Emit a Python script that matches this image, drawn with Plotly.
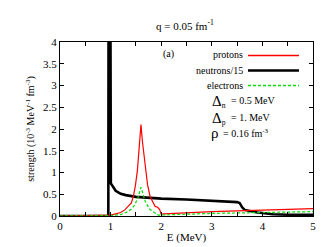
import plotly.graph_objects as go

# ---- data ----
E_n = [0, 0.90, 0.955, 0.965, 0.985, 1.005, 1.03, 1.06, 1.10, 1.20, 1.30, 1.50, 1.70, 2.00, 2.50, 3.00,
       3.30, 3.50, 3.55, 3.60, 3.65, 3.75, 3.90, 4.00, 4.20, 4.50, 5.00]
S_n = [0, 0, 0.0, 10.0, 10.0, 0.75, 0.70, 0.64, 0.58, 0.51, 0.48, 0.44, 0.42, 0.40, 0.38, 0.35,
       0.34, 0.32, 0.30, 0.20, 0.14, 0.11, 0.08, 0.07, 0.04, 0.03, 0.03]

E_p = [0, 0.95, 1.00, 1.10, 1.20, 1.28, 1.35, 1.41, 1.45, 1.49, 1.53, 1.57, 1.60, 1.63, 1.69, 1.73,
       1.78, 1.84, 1.88, 1.93, 1.97, 2.00, 2.05, 3.00, 4.00, 5.00]
S_p = [0, 0.01, 0.02, 0.05, 0.08, 0.14, 0.22, 0.30, 0.45, 0.70, 1.05, 1.60, 2.10, 1.70, 1.05, 0.72,
       0.45, 0.30, 0.22, 0.20, 0.15, 0.04, 0.05, 0.10, 0.14, 0.17]

E_e = [0, 1.00, 1.20, 1.34, 1.42, 1.48, 1.54, 1.58, 1.60, 1.63, 1.68, 1.72, 1.78, 1.84, 1.94, 3.00,
       4.00, 5.00]
S_e = [0, 0.01, 0.03, 0.10, 0.17, 0.26, 0.42, 0.60, 0.66, 0.55, 0.35, 0.26, 0.15, 0.10, 0.02, 0.06,
       0.08, 0.10]

x_ticks = [0, 1, 2, 3, 4, 5]
y_ticks = [0, 0.5, 1, 1.5, 2, 2.5, 3, 3.5, 4]
y_labels = ["0", "0.5", "1", "1.5", "2", "2.5", "3", "3.5", "4"]

W, H = 327, 247
L, R, T, B = 52, 305, 34, 208
FONT = "Liberation Serif"


def px(x):
    return (x - L) / (R - L)


def py(y):
    return (B - y) / (B - T)


RED = "#ff0000"
GREEN = "#00dd00"

fig = go.Figure()
fig.add_trace(go.Scatter(x=E_n, y=S_n, mode="lines", line=dict(color="black", width=2.6),
                         name="neutrons/15"))
fig.add_trace(go.Scatter(x=E_p, y=S_p, mode="lines", line=dict(color=RED, width=1.2),
                         name="protons"))
fig.add_trace(go.Scatter(x=E_e, y=S_e, mode="lines",
                         line=dict(color=GREEN, width=1.2, dash="3px,2px"),
                         name="electrons"))

# legend samples on an overlay axis in plot-fraction coordinates
for col, wd, dash, yy in [(RED, 1.4, "solid", 47.5), ("black", 2.6, "solid", 62.5),
                          (GREEN, 1.4, "3px,2px", 77.5)]:
    fig.add_trace(go.Scatter(x=[px(240), px(291)], y=[py(yy), py(yy)], mode="lines",
                             line=dict(color=col, width=wd, dash=dash),
                             xaxis="x2", yaxis="y2", hoverinfo="skip", showlegend=False))


def axis(**kw):
    d = dict(showgrid=False, zeroline=False, showline=True, linecolor="black", linewidth=1,
             mirror="ticks", ticks="inside", ticklen=4, tickcolor="black", automargin=False,
             tickfont=dict(family=FONT, size=11, color="black"))
    d.update(kw)
    return d


xaxis = axis(range=[0, 5], tickvals=x_ticks, ticktext=[str(v) for v in x_ticks],
             minor=dict(dtick=0.5, ticks="inside", ticklen=4, tickcolor="black"),
             title=dict(text="E (MeV)", font=dict(family=FONT, size=11, color="black"), standoff=2))
yaxis = axis(range=[0, 4], tickvals=y_ticks, ticktext=y_labels,
             title=dict(text="strength (10<sup>-3</sup> MeV<sup>-1</sup> fm<sup>-3</sup>)",
                        font=dict(family=FONT, size=10, color="black"), standoff=6))

anns = []
anns.append(dict(x=px(177), y=py(17), xref="paper", yref="paper",
                 text="q = 0.05 fm<sup>-1</sup>", showarrow=False,
                 font=dict(family=FONT, size=11, color="black"), xanchor="center", yanchor="middle"))
anns.append(dict(x=px(160), y=py(46), xref="paper", yref="paper", text="(a)", showarrow=False,
                 font=dict(family=FONT, size=10, color="black"), xanchor="center", yanchor="middle"))
for label, yy in [("protons", 47), ("neutrons/15", 62.5), ("electrons", 77.5)]:
    anns.append(dict(x=px(237), y=py(yy), xref="paper", yref="paper", text=label, showarrow=False,
                     font=dict(family=FONT, size=10, color="black"), xanchor="right", yanchor="middle"))
anns.append(dict(x=px(202), y=py(93), xref="paper", yref="paper",
                 text="<span style='font-size:15px'>Δ</span><sub>n</sub>", showarrow=False,
                 font=dict(family=FONT, size=11, color="black"), xanchor="left", yanchor="middle"))
anns.append(dict(x=px(221), y=py(92), xref="paper", yref="paper", text="= 0.5 MeV", showarrow=False,
                 font=dict(family=FONT, size=10, color="black"), xanchor="left", yanchor="middle"))
anns.append(dict(x=px(202), y=py(110), xref="paper", yref="paper",
                 text="<span style='font-size:15px'>Δ</span><sub>p</sub>", showarrow=False,
                 font=dict(family=FONT, size=11, color="black"), xanchor="left", yanchor="middle"))
anns.append(dict(x=px(221), y=py(109), xref="paper", yref="paper", text="= 1. MeV", showarrow=False,
                 font=dict(family=FONT, size=10, color="black"), xanchor="left", yanchor="middle"))
anns.append(dict(x=px(201), y=py(125), xref="paper", yref="paper",
                 text="ρ", showarrow=False,
                 font=dict(family=FONT, size=15, color="black"), xanchor="left", yanchor="middle"))
anns.append(dict(x=px(213), y=py(125), xref="paper", yref="paper", text="= 0.16 fm<sup>-3</sup>",
                 showarrow=False, font=dict(family=FONT, size=10, color="black"),
                 xanchor="left", yanchor="middle"))

fig.update_layout(width=W, height=H, margin=dict(l=L, r=W - R, t=T, b=H - B),
                  paper_bgcolor="white", plot_bgcolor="white", showlegend=False,
                  xaxis=xaxis, yaxis=yaxis,
                  xaxis2=dict(overlaying="x", range=[0, 1], visible=False, anchor="y2"),
                  yaxis2=dict(overlaying="y", range=[0, 1], visible=False, anchor="x2"),
                  annotations=anns)

fig.write_html("out.html")
